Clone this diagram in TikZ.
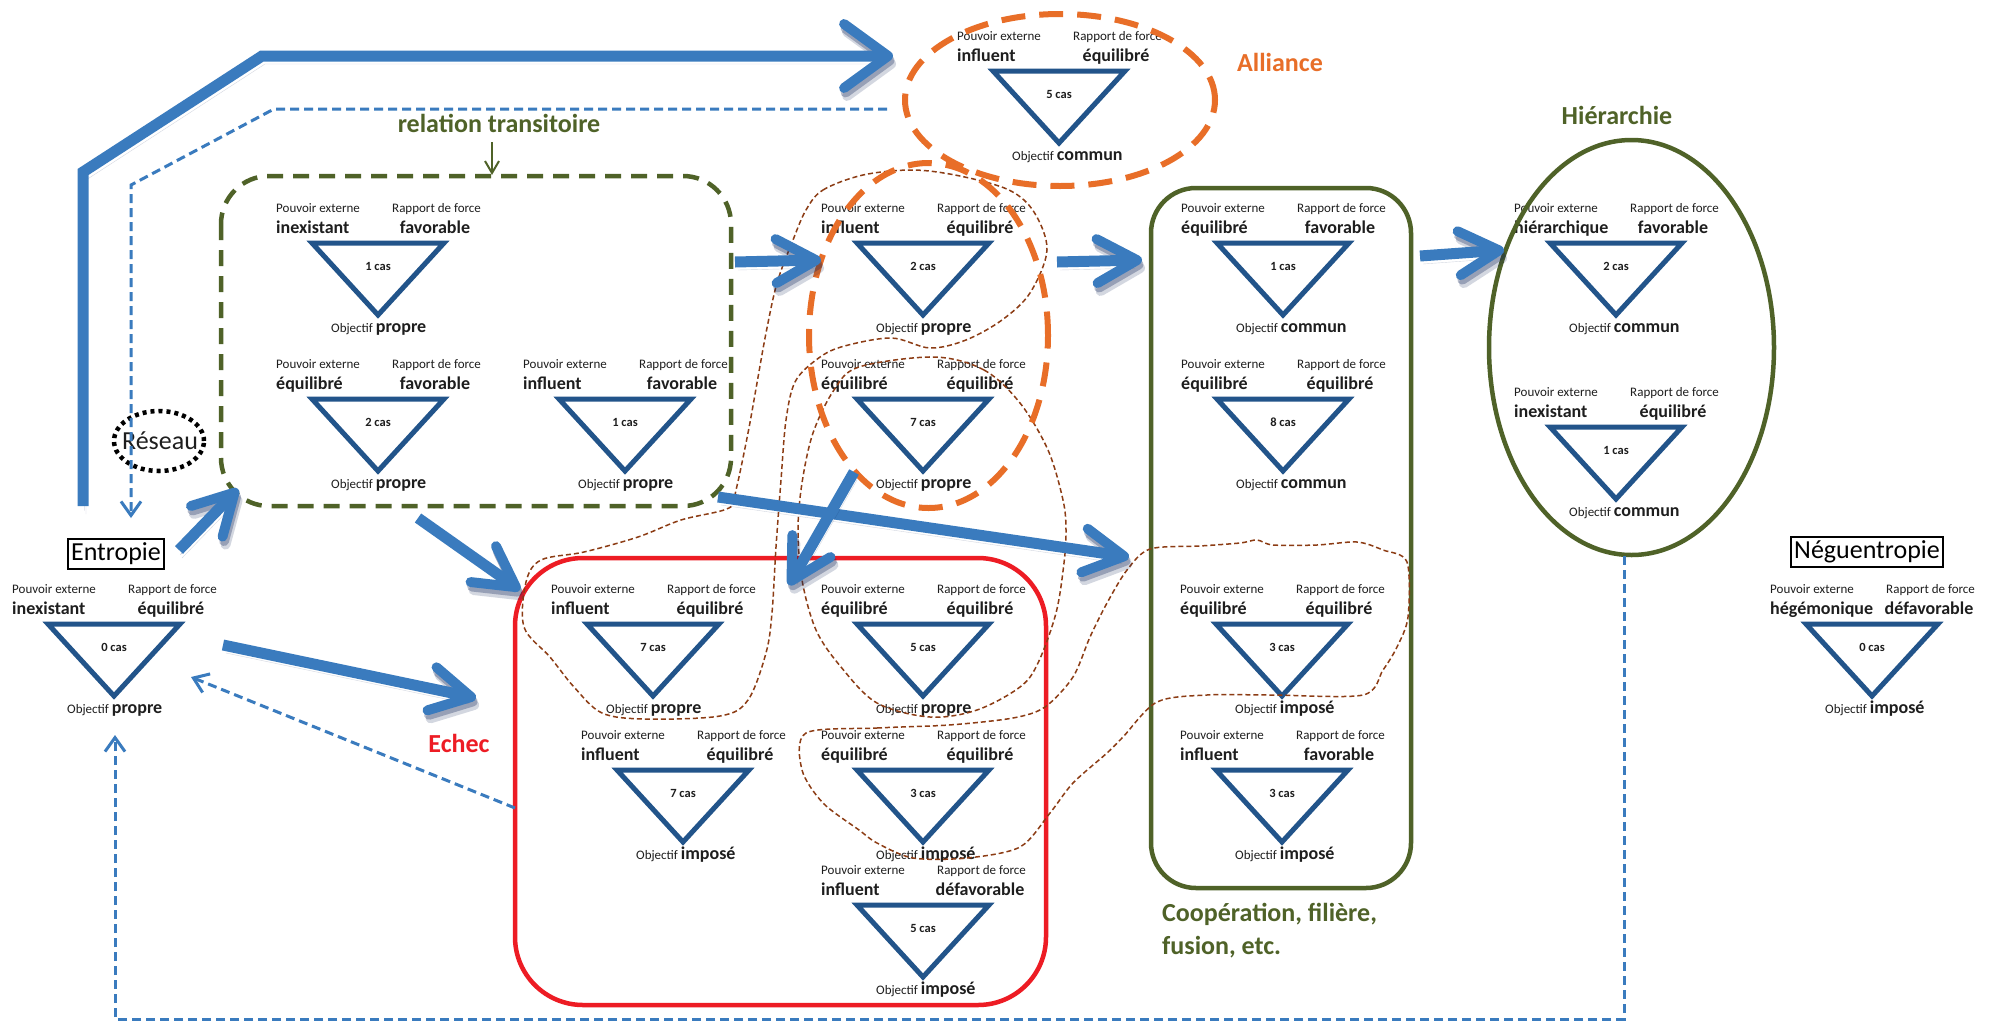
\documentclass[tikz,border=0pt]{standalone}
\usepackage{fontspec}
\setmainfont{Carlito}
\usetikzlibrary{arrows.meta}
\definecolor{triblue}{RGB}{34,84,138}
\definecolor{arrblue}{RGB}{58,123,190}
\definecolor{shblue}{RGB}{15,35,85}
\definecolor{olive}{RGB}{79,98,40}
\definecolor{orng}{RGB}{232,110,40}
\definecolor{redb}{RGB}{237,28,36}
\definecolor{brwn}{RGB}{140,60,20}
\definecolor{txtc}{RGB}{30,30,30}
\newcommand\fsS{\fontsize{13}{15}\selectfont}
\newcommand\fsB{\fontsize{18}{21}\selectfont\bfseries}
\newcommand\fsC{\fontsize{12.5}{14}\selectfont\bfseries}
\newcommand\fsL{\fontsize{26}{31}\selectfont}
\tikzset{
  tri/.style={draw=triblue, line width=5pt, line join=miter},
  tx/.style={inner sep=0pt, text=txtc},
  bigarr/.style={draw=arrblue, line width=11pt, line join=miter,
    -{Straight Barb[length=40pt,width=44pt,line width=0pt 0.9,round]},
    preaction={draw=shblue, draw opacity=0.18, transform canvas={shift={(3pt,-8pt)}}},
    preaction={draw=shblue, draw opacity=0.3, transform canvas={shift={(1.5pt,-4.5pt)}}}},
  topbarr/.style={bigarr, -{Straight Barb[length=44pt,width=64pt,line width=0pt 0.9,round]}},
  dsharr/.style={draw=arrblue, line width=3pt, dash pattern=on 9pt off 5pt,
    -{Straight Barb[length=14pt,width=20pt,line width=0pt 1]}},
  brown/.style={draw=brwn, line width=1.5pt, dash pattern=on 5pt off 3pt},
  orgdash/.style={draw=orng, line width=6pt, dash pattern=on 24pt off 14pt},
  biglbl/.style={inner sep=0pt, font=\fsL\bfseries},
  boxlbl/.style={draw=black, line width=2.5pt, inner xsep=3pt, inner ysep=4pt, font=\fsL, text=black}
}
\newcommand\tmod[7]{%
  \draw[tri] (#2-66,#3) -- (#2+66,#3) -- (#2,#3+72) -- cycle;
  \node[tx, anchor=base west, font=\fsS] (#1-pl) at (#2-102,#3-31) {Pouvoir externe};
  \node[tx, anchor=base west, font=\fsS] (#1-rl) at (#2+14,#3-31) {Rapport de force};
  \node[tx, anchor=base west, font=\fsB] (#1-pv) at (#2-102,#3-10) {#4};
  \node[tx, anchor=base, font=\fsB] (#1-rv) at (#2+57,#3-10) {#5};
  \node[tx, anchor=base, font=\fsC] (#1-n) at (#2,#3+27) {#6 cas};
  \node[tx, anchor=base west, font=\fsS] (#1-o) at (#2-47,#3+89) {Objectif {\fsB #7}};
}
\begin{document}
\begin{tikzpicture}[x=1pt,y=-1pt]
\useasboundingbox[fill=white] (0,0) rectangle (2006,1026);

% modules
\tmod{rtA}{378}{243}{inexistant}{favorable}{1}{propre}
\tmod{rtB}{378}{399}{équilibré}{favorable}{2}{propre}
\tmod{rtC}{625}{399}{influent}{favorable}{1}{propre}
\tmod{al}{1059}{71}{influent}{équilibré}{5}{commun}
\tmod{aA}{923}{243}{influent}{équilibré}{2}{propre}
\tmod{aB}{923}{399}{équilibré}{équilibré}{7}{propre}
\tmod{cA}{1283}{243}{équilibré}{favorable}{1}{commun}
\tmod{cB}{1283}{399}{équilibré}{équilibré}{8}{commun}
\tmod{cC}{1282}{624}{équilibré}{équilibré}{3}{imposé}
\tmod{cD}{1282}{770}{influent}{favorable}{3}{imposé}
\tmod{hA}{1616}{243}{hiérarchique}{favorable}{2}{commun}
\tmod{hB}{1616}{427}{inexistant}{équilibré}{1}{commun}
\tmod{e}{114}{624}{inexistant}{équilibré}{0}{propre}
\tmod{fA}{653}{624}{influent}{équilibré}{7}{propre}
\tmod{fB}{683}{770}{influent}{équilibré}{7}{imposé}
\tmod{fC}{923}{624}{équilibré}{équilibré}{5}{propre}
\tmod{fD}{923}{770}{équilibré}{équilibré}{3}{imposé}
\tmod{fE}{923}{905}{influent}{défavorable}{5}{imposé}
\tmod{n}{1872}{624}{hégémonique}{défavorable}{0}{imposé}

% containers
\draw[olive, line width=4.5pt, dash pattern=on 16pt off 10pt, rounded corners=48pt] (221,176) rectangle (731,506);
\draw[redb, line width=4.5pt, rounded corners=68pt] (515,558) rectangle (1046,1005);
\draw[olive, line width=4.5pt, rounded corners=45pt] (1151,188) rectangle (1411,888);
\draw[olive, line width=4.5pt] (1631.5,347.5) ellipse [x radius=142.5pt, y radius=207.5pt];

% brown dashed contours
\draw[brown] plot[smooth cycle, tension=0.55] coordinates {
 (806,210) (823,190) (863,175) (913,170) (960,176) (1009,190) (1034,212) (1047,250)
 (1030,293) (1002,320) (966,340) (930,348) (891,338) (841,347) (816,360) (795,382)
 (786,420) (781,480) (776,547) (772,613) (766,653) (748,700) (720,716) (645,719)
 (602,713) (574,687) (550,657) (524,627) (526,582) (541,560) (584,552) (638,537)
 (681,520) (729,508) (736,490) (748,433) (757,383) (766,333) (777,283) (793,240)};
\draw[brown] plot[smooth cycle, tension=0.55] coordinates {
 (934,357) (984,370) (1020,403) (1048,450) (1063,500) (1066,530) (1064,563) (1056,613)
 (1038,663) (1020,687) (977,710) (930,717) (877,703) (841,667) (816,630) (802,580)
 (798,530) (802,483) (813,433) (834,390) (859,367)};
\draw[brown] plot[smooth cycle, tension=0.5] coordinates {
 (806,733) (877,728) (949,725) (1013,718) (1045,707) (1073,677) (1090,637) (1107,603)
 (1127,570) (1150,549) (1200,546) (1240,543) (1257,540) (1273,545) (1317,545) (1357,542)
 (1383,550) (1407,562) (1408,617) (1397,647) (1383,670) (1363,695) (1273,695) (1207,695)
 (1157,702) (1123,737) (1107,753) (1073,783) (1050,813) (1020,847) (967,858) (913,858)
 (877,843) (859,830) (823,803) (802,770)};

% orange dashed ellipses
\draw[orgdash] (1060,100) ellipse [x radius=155pt, y radius=86pt];
\draw[orgdash] (928.5,335.5) ellipse [x radius=119.5pt, y radius=172.5pt];

% Reseau
\draw[black, line width=4.5pt, dash pattern=on 4pt off 4pt] (159,441) ellipse [x radius=45pt, y radius=30pt];
\node[inner sep=0pt, font=\fsL, text=txtc] (reseau) at (160,441) {Réseau};

% labels
\node[biglbl, text=olive] (reltr) at (499,123) {relation transitoire};
\node[biglbl, text=orng] (alliance) at (1280,62) {Alliance};
\node[biglbl, text=olive] (hier) at (1617,115) {Hiérarchie};
\node[biglbl, text=redb] (echec) at (459,743) {Echec};
\node[biglbl, anchor=base west, text=olive] (coopA) at (1162,921) {Coopération, filière,};
\node[biglbl, anchor=base west, text=olive] (coopB) at (1162,954) {fusion, etc.};
\node[boxlbl] (entropie) at (116,554) {Entropie};
\node[boxlbl] (negu) at (1867,552) {Néguentropie};

% small green arrow
\coordinate (rtTop) at (492,175);
\draw[olive, line width=2pt, -{Straight Barb[length=12pt,width=14pt,line width=0pt 1]}] (492,142) -- (rtTop);

% dashed blue connectors
\coordinate (d1a) at (887,109);
\coordinate (d1b) at (274,109);
\coordinate (d1c) at (131,185);
\coordinate (d1d) at (131,518);
\draw[dsharr] (d1a) -- (d1b) -- (d1c) -- (d1d);
\coordinate (d2a) at (515,808);
\coordinate (d2b) at (191,677);
\draw[dsharr] (d2a) -- (d2b);
\coordinate (d3a) at (1624,556);
\coordinate (d3b) at (1624,1019);
\coordinate (d3c) at (115,1019);
\coordinate (d3d) at (115,735);
\draw[dsharr] (d3a) -- (d3b) -- (d3c) -- (d3d);

% big blue arrows
\coordinate (t0) at (83,506);
\coordinate (t1) at (83,172);
\coordinate (t2) at (262,56);
\coordinate (t3) at (893,56);
\draw[topbarr] (t0) -- (t1) -- (t2) -- (t3);
\coordinate (b1s) at (179,550); \coordinate (b1e) at (238,489);
\draw[bigarr] (b1s) -- (b1e);
\coordinate (b2s) at (223,645); \coordinate (b2e) at (476,698);
\draw[bigarr] (b2s) -- (b2e);
\coordinate (b3s) at (418,518); \coordinate (b3e) at (520,590);
\draw[bigarr] (b3s) -- (b3e);
\coordinate (b4s) at (735,262); \coordinate (b4e) at (821,260);
\draw[bigarr] (b4s) -- (b4e);
\coordinate (b5s) at (1057,262); \coordinate (b5e) at (1142,260);
\draw[bigarr] (b5s) -- (b5e);
\coordinate (b6s) at (1420,256); \coordinate (b6e) at (1504,250);
\draw[bigarr] (b6s) -- (b6e);
\coordinate (b7s) at (718,497); \coordinate (b7e) at (1129,557);
\draw[bigarr] (b7s) -- (b7e);
\coordinate (b8s) at (854,472); \coordinate (b8e) at (789,585);
\draw[bigarr] (b8s) -- (b8e);
\end{tikzpicture}
\end{document}
